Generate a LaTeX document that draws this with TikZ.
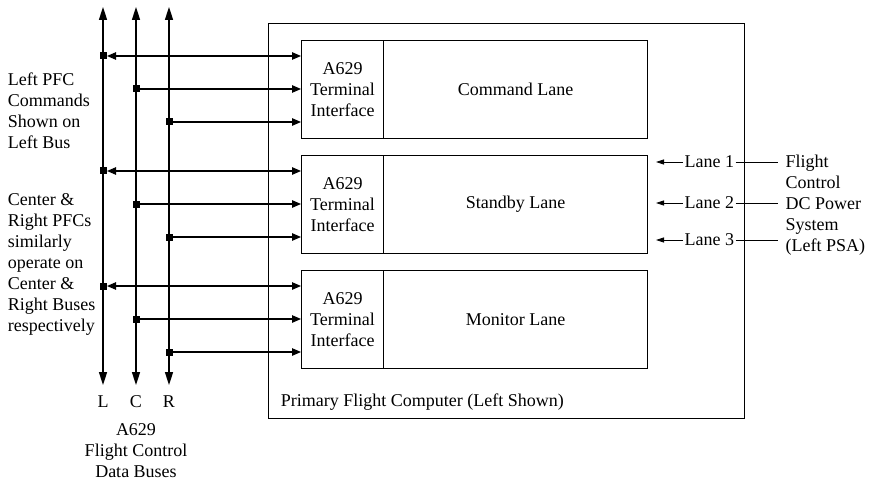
\documentclass[tikz,border=0pt]{standalone}
\usepackage{fontspec}
\setmainfont{Liberation Serif}
\usetikzlibrary{arrows.meta}

\tikzset{
  box/.style={draw, anchor=north west, minimum height=98pt, align=center, inner sep=0pt},
  junc/.style={fill, inner sep=0pt, minimum size=7pt},
  bustip/.style={{Triangle[length=13pt,width=8pt]}-{Triangle[length=13pt,width=8pt]}},
  tip/.style={-{Triangle[length=9pt,width=7.5pt]}},
  twotip/.style={{Triangle[length=9pt,width=7.5pt]}-{Triangle[length=9pt,width=7.5pt]}},
  smalltip/.style={-{Triangle[length=8pt,width=5pt]}}
}

\begin{document}
\begin{tikzpicture}[x=1pt, y=-1pt, line width=1.1pt,
  every node/.style={font=\fontsize{18}{21}\selectfont}]
	\useasboundingbox (0,0) rectangle (869,481);
	% computer and its three lanes
	\node[draw, anchor=north west, minimum width=476pt, minimum height=395pt, inner sep=0pt] (pfc) at (268,23) {};
	\node[anchor=west] (pfclab) at (277,402) {Primary Flight Computer (Left Shown)};
	\foreach \top/\name [count=\i] in {40/Command Lane, 155/Standby Lane, 270/Monitor Lane} {
		\node[box, minimum width=82pt] (ti\i) at (301,\top) {A629\\Terminal\\Interface};
		\node[box, minimum width=264pt] (lane\i) at (383,\top) {\name};
	}
	% data buses
	\foreach \b/\x in {L/103, C/136, R/169} {
		\coordinate (\b top) at (\x,7);
		\coordinate (\b bot) at (\x,385);
		\draw[bustip, line width=1.6pt] (\b bot) -- (\b top);
		\node (\b lab) at (\x,402) {\b};
	}
	\node[align=center] (buscap) at (136,451) {A629\\Flight Control\\Data Buses};
	\foreach \i/\top in {1/40, 2/155, 3/270} {
		\node[junc] (L\i) at (103,\top+16) {};
		\node[junc] (C\i) at (136,\top+49) {};
		\node[junc] (R\i) at (169,\top+82) {};
		\draw[twotip] (L\i.east) -- (ti\i.west |- L\i);
		\draw[tip] (C\i.east) -- (ti\i.west |- C\i);
		\draw[tip] (R\i.east) -- (ti\i.west |- R\i);
	}
	\node[align=left, anchor=west] (note1) at (4,111) {Left PFC\\Commands\\Shown on\\Left Bus};
	\node[align=left, anchor=west] (note2) at (4,264) {Center \&\\Right PFCs\\similarly\\operate on\\Center \&\\Right Buses\\respectively};
	% power supply
	\node[align=left, anchor=west, inner xsep=7pt] (psa) at (778,205) {Flight\\Control\\DC Power\\System\\(Left PSA)};
	\foreach \i/\y in {1/162, 2/203, 3/240} {
		\node[inner sep=1pt, anchor=west] (pw\i) at (683,\y) {Lane \i};
		\coordinate (in\i) at (656,\y);
		\draw[smalltip, line width=0.8pt] (pw\i.west) -- (in\i);
		\draw[line width=0.8pt] (pw\i.east) -- (psa.west |- pw\i);
	}
\end{tikzpicture}
\end{document}
